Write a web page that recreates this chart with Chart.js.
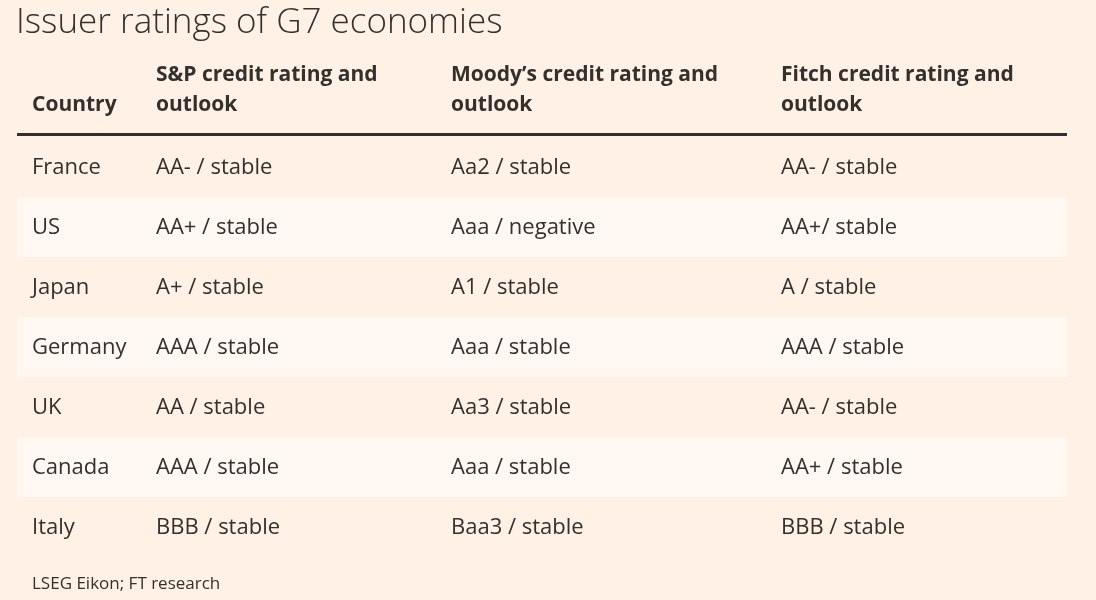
<!DOCTYPE html>
<html>
<head>
<meta charset="utf-8">
<script src="https://cdn.jsdelivr.net/npm/chart.js@4"></script>
<style>
  html, body { margin: 0; background: #fff1e5; }
  canvas { display: block; }
</style>
</head>
<body>
<canvas id="table" width="1096" height="600"></canvas>
<script>
const title    = 'Issuer ratings of G7 economies';
const headers  = [['Country'], ['S&P credit rating and', 'outlook'], ['Moody\u2019s credit rating and', 'outlook'], ['Fitch credit rating and', 'outlook']];
const countries = ['France', 'US', 'Japan', 'Germany', 'UK', 'Canada', 'Italy'];
const spRatings = ['AA- / stable', 'AA+ / stable', 'A+ / stable', 'AAA / stable', 'AA / stable', 'AAA / stable', 'BBB / stable'];
const moodysRatings = ['Aa2 / stable', 'Aaa / negative', 'A1 / stable', 'Aaa / stable', 'Aa3 / stable', 'Aaa / stable', 'Baa3 / stable'];
const fitchRatings = ['AA- / stable', 'AA+/ stable', 'A / stable', 'AAA / stable', 'AA- / stable', 'AA+ / stable', 'BBB / stable'];
const source   = 'LSEG Eikon; FT research';

const FONT = '"Open Sans", "Noto Sans", sans-serif';
const INK = '#33302e';
const colX = [32, 156, 451, 781];

/* ── draws the table from the y category scale ── */
const tablePlugin = {
  id: 'tableCells',
  beforeDatasetsDraw(chart) {
    const { ctx, chartArea: a, scales: { y } } = chart;
    const band = (a.bottom - a.top) / countries.length;
    ctx.save();
    countries.forEach((c, i) => {
      if (i % 2 === 1) {
        const cy = y.getPixelForValue(i);
        ctx.fillStyle = '#fff7f1';
        ctx.fillRect(a.left, cy - band / 2, a.right - a.left, band);
      }
    });
    ctx.restore();
  },
  afterDraw(chart) {
    const { ctx, chartArea: a, scales: { y } } = chart;
    ctx.save();
    ctx.fillStyle = INK;
    ctx.textBaseline = 'middle';

    ctx.font = `300 35px ${FONT}`;
    ctx.fillText(title, 16, 23);

    ctx.font = `bold 21px ${FONT}`;
    headers.forEach((lines, j) => {
      const top = lines.length === 1 ? 105 : 75;
      lines.forEach((l, k) => ctx.fillText(l, colX[j], top + k * 30));
    });

    ctx.fillRect(a.left, a.top - 4, a.right - a.left, 3);

    ctx.font = `22px ${FONT}`;
    const cols = [countries, spRatings, moodysRatings, fitchRatings];
    countries.forEach((c, i) => {
      const cy = y.getPixelForValue(i) + 1;
      cols.forEach((col, j) => ctx.fillText(col[i], colX[j], cy));
    });

    ctx.font = `17px ${FONT}`;
    ctx.fillText(source, 32, 584);
    ctx.restore();
  }
};

new Chart(document.getElementById('table'), {
  type: 'bar',
  data: {
    labels: countries,
    datasets: [{ data: countries.map(() => 0), backgroundColor: 'rgba(0,0,0,0)' }],
  },
  options: {
    indexAxis: 'y',
    responsive: false,
    animation: false,
    devicePixelRatio: 1,
    layout: { padding: { top: 137, bottom: 43, left: 17, right: 29 } },
    plugins: { legend: { display: false }, tooltip: { enabled: false } },
    scales: {
      y: { type: 'category', display: false, offset: true },
      x: { display: false, min: 0, max: 1 },
    },
  },
  plugins: [tablePlugin],
});
</script>
</body>
</html>
